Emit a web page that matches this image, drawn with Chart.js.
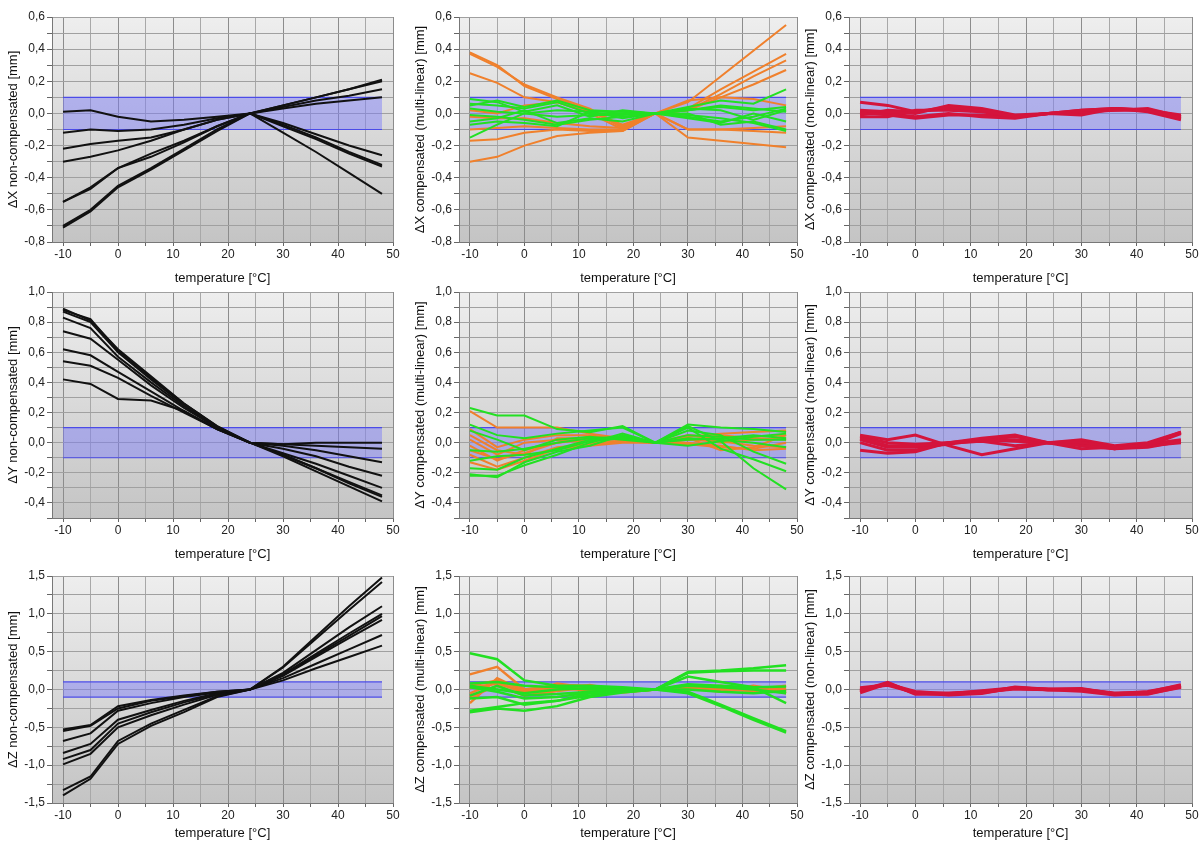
<!DOCTYPE html>
<html>
<head>
<meta charset="utf-8">
<script src="https://cdn.jsdelivr.net/npm/chart.js@4/dist/chart.umd.min.js"></script>
<style>
  html, body { margin: 0; padding: 0; background: #fff; overflow: hidden; }
  body { width: 1202px; height: 847px; position: relative; }
  canvas { position: absolute; }
</style>
</head>
<body>
<script>
// temperatures of the measurement points [°C]
const temps = [-10, -5, 0, 6, 12, 18, 24, 30, 36, 42, 48];

// tolerance band
const bandX = [-10, 48];
const bandY = [-0.1, 0.1];

// x axis ticks
const xTicks = [-10, -5, 0, 5, 10, 15, 20, 25, 30, 35, 40, 45, 50];
const xLabels = [-10, 0, 10, 20, 30, 40, 50];

// y axis ranges / ticks per row
const yRangeX = [-0.8, 0.6];
const yRangeY = [-0.5, 1.0];
const yRangeZ = [-1.5, 1.5];
const yStepX = 0.1, yStepY = 0.1, yStepZ = 0.25;
const yLabelStepX = 0.2, yLabelStepY = 0.2, yLabelStepZ = 0.5;

// ΔX non-compensated
const xNonComp = [
  [0.01, 0.02, -0.02, -0.05, -0.04, -0.02, 0, 0.03, 0.06, 0.08, 0.10],
  [-0.12, -0.10, -0.11, -0.10, -0.07, -0.03, 0, -0.06, -0.13, -0.20, -0.26],
  [-0.22, -0.19, -0.17, -0.15, -0.10, -0.04, 0, 0.04, 0.08, 0.11, 0.15],
  [-0.30, -0.27, -0.23, -0.17, -0.10, -0.04, 0, -0.07, -0.15, -0.24, -0.32],
  [-0.55, -0.47, -0.34, -0.27, -0.18, -0.08, 0, 0.05, 0.10, 0.15, 0.21],
  [-0.70, -0.60, -0.45, -0.34, -0.22, -0.10, 0, -0.08, -0.16, -0.25, -0.33],
  [-0.71, -0.61, -0.46, -0.35, -0.23, -0.11, 0, 0.05, 0.10, 0.15, 0.20],
  [-0.55, -0.46, -0.34, -0.25, -0.17, -0.08, 0, -0.12, -0.24, -0.37, -0.50]
];
// ΔY non-compensated
const yNonComp = [
  [0.89, 0.81, 0.62, 0.44, 0.26, 0.11, 0, -0.09, -0.19, -0.29, -0.39],
  [0.87, 0.80, 0.60, 0.42, 0.25, 0.10, 0, -0.08, -0.17, -0.26, -0.35],
  [0.83, 0.76, 0.57, 0.40, 0.24, 0.10, 0, -0.08, -0.17, -0.27, -0.36],
  [0.74, 0.69, 0.55, 0.38, 0.23, 0.10, 0, -0.07, -0.14, -0.22, -0.30],
  [0.62, 0.58, 0.47, 0.34, 0.21, 0.09, 0, -0.04, -0.09, -0.16, -0.22],
  [0.54, 0.51, 0.43, 0.31, 0.20, 0.09, 0, -0.02, -0.05, -0.09, -0.13],
  [0.42, 0.39, 0.29, 0.28, 0.21, 0.09, 0, -0.01, -0.02, -0.03, -0.04],
  [0.88, 0.82, 0.61, 0.43, 0.26, 0.11, 0, -0.01, 0.00, 0.00, 0.00]
];
// ΔZ non-compensated
const zNonComp = [
  [-0.53, -0.47, -0.22, -0.14, -0.08, -0.03, 0, 0.30, 0.70, 1.10, 1.48],
  [-0.55, -0.48, -0.25, -0.15, -0.09, -0.03, 0, 0.29, 0.67, 1.05, 1.42],
  [-0.68, -0.58, -0.28, -0.18, -0.10, -0.04, 0, 0.22, 0.52, 0.82, 1.10],
  [-0.84, -0.72, -0.40, -0.27, -0.15, -0.05, 0, 0.20, 0.47, 0.74, 1.00],
  [-0.92, -0.80, -0.45, -0.30, -0.17, -0.06, 0, 0.19, 0.45, 0.71, 0.97],
  [-0.99, -0.85, -0.50, -0.34, -0.20, -0.07, 0, 0.18, 0.43, 0.68, 0.92],
  [-1.33, -1.15, -0.68, -0.45, -0.27, -0.09, 0, 0.15, 0.34, 0.53, 0.72],
  [-1.40, -1.18, -0.72, -0.48, -0.30, -0.10, 0, 0.12, 0.28, 0.43, 0.58]
];

// multi-linear compensation, green group
const xMultiGreen = [
  [0.09, 0.07, 0.01, 0.05, -0.02, 0.02, 0, 0.04, 0.08, 0.06, 0.15],
  [0.06, 0.05, 0.03, 0.07, 0.00, 0.00, 0, 0.02, 0.04, 0.02, 0.04],
  [0.03, 0.01, 0.00, -0.02, -0.01, -0.01, 0, -0.02, -0.05, -0.02, 0.03],
  [-0.01, -0.02, -0.04, -0.07, -0.04, -0.02, 0, -0.03, -0.06, 0.00, -0.05],
  [-0.05, -0.03, 0.02, -0.06, -0.03, -0.05, 0, 0.02, 0.05, 0.03, 0.01],
  [-0.15, -0.07, 0.00, 0.02, 0.01, -0.03, 0, 0.00, -0.07, -0.05, -0.10],
  [0.05, 0.08, 0.04, 0.08, 0.02, 0.01, 0, -0.01, -0.03, -0.06, -0.11],
  [-0.07, -0.05, -0.06, -0.08, 0.01, 0.01, 0, 0.03, 0.02, -0.04, 0.02]
];
// multi-linear compensation, orange group
const xMultiOrange = [
  [0.37, 0.29, 0.18, 0.10, 0.03, -0.08, 0, 0.07, 0.23, 0.39, 0.55],
  [0.38, 0.30, 0.17, 0.09, 0.02, -0.09, 0, 0.03, 0.15, 0.26, 0.37],
  [0.25, 0.19, 0.10, 0.07, 0.00, -0.10, 0, 0.02, 0.12, 0.23, 0.33],
  [-0.17, -0.16, -0.12, -0.10, -0.11, -0.11, 0, 0.02, 0.10, 0.18, 0.27],
  [-0.30, -0.27, -0.20, -0.14, -0.12, -0.11, 0, -0.15, -0.17, -0.19, -0.21],
  [-0.10, -0.09, -0.08, -0.09, -0.10, -0.10, 0, -0.10, -0.10, -0.11, -0.12],
  [-0.02, -0.03, -0.03, -0.06, -0.08, -0.09, 0, -0.10, -0.10, -0.09, -0.08],
  [0.02, 0.00, 0.05, 0.07, 0.01, -0.07, 0, 0.08, 0.10, 0.09, 0.05]
];
const yMultiGreen = [
  [0.23, 0.18, 0.18, 0.09, 0.07, 0.11, 0, 0.12, 0.10, 0.09, 0.07],
  [0.12, 0.05, 0.03, 0.06, 0.08, 0.10, 0, 0.11, 0.01, -0.17, -0.31],
  [-0.22, -0.22, -0.15, -0.08, 0.00, 0.06, 0, 0.10, -0.04, -0.11, -0.19],
  [-0.21, -0.23, -0.13, -0.06, -0.02, 0.05, 0, 0.08, 0.05, -0.06, -0.14],
  [-0.17, -0.18, -0.10, -0.04, 0.02, 0.04, 0, 0.05, 0.04, 0.02, 0.02],
  [-0.12, -0.09, -0.08, -0.05, 0.01, 0.03, 0, -0.02, 0.01, 0.04, 0.06],
  [0.08, 0.02, -0.05, 0.02, 0.04, 0.02, 0, 0.03, 0.02, 0.00, -0.03],
  [-0.05, -0.06, -0.04, 0.00, 0.03, 0.04, 0, 0.02, 0.03, 0.05, 0.03]
];
const yMultiOrange = [
  [0.21, 0.10, 0.10, 0.10, 0.06, 0.03, 0, 0.04, 0.06, 0.07, 0.08],
  [0.09, -0.03, 0.02, 0.05, 0.05, 0.02, 0, 0.05, 0.03, 0.04, 0.05],
  [0.05, -0.05, -0.08, 0.03, 0.03, 0.02, 0, 0.03, 0.00, 0.02, 0.03],
  [-0.02, -0.12, -0.05, 0.00, 0.02, 0.02, 0, 0.02, 0.01, -0.02, -0.03],
  [-0.08, -0.16, -0.10, -0.03, -0.01, 0.01, 0, 0.00, -0.02, -0.05, -0.04],
  [-0.13, -0.18, -0.12, -0.04, -0.02, 0.00, 0, -0.01, -0.03, -0.04, 0.00],
  [0.02, -0.08, 0.00, 0.02, 0.00, 0.01, 0, 0.02, 0.05, 0.03, 0.02],
  [-0.05, -0.11, -0.07, 0.00, 0.04, 0.03, 0, 0.03, -0.05, -0.03, 0.05]
];
const zMultiGreen = [
  [0.48, 0.40, 0.12, 0.05, 0.05, 0.03, 0, 0.23, 0.25, 0.28, 0.32],
  [0.08, 0.10, 0.05, 0.03, 0.00, 0.00, 0, 0.22, 0.24, 0.25, 0.25],
  [-0.30, -0.25, -0.28, -0.22, -0.10, -0.04, 0, 0.17, 0.10, 0.03, -0.18],
  [-0.28, -0.23, -0.18, -0.15, -0.08, -0.03, 0, -0.05, -0.22, -0.40, -0.57],
  [-0.12, -0.10, -0.20, -0.15, -0.05, -0.03, 0, -0.03, -0.20, -0.38, -0.55],
  [0.03, -0.03, -0.12, -0.10, -0.04, -0.02, 0, 0.05, 0.03, 0.00, -0.05],
  [-0.08, 0.05, -0.08, -0.06, -0.03, 0.00, 0, 0.07, 0.05, 0.03, 0.04],
  [0.05, 0.00, -0.05, 0.00, 0.02, 0.01, 0, 0.00, -0.03, -0.05, -0.02]
];
const zMultiOrange = [
  [0.20, 0.30, 0.00, 0.05, 0.02, -0.03, 0, 0.05, 0.03, 0.00, 0.02],
  [-0.18, 0.15, -0.02, 0.06, 0.05, -0.02, 0, 0.03, 0.00, -0.02, -0.03],
  [-0.05, 0.10, -0.05, 0.08, 0.02, -0.04, 0, 0.06, 0.02, 0.00, 0.05],
  [0.02, 0.08, -0.03, 0.00, 0.06, -0.02, 0, 0.02, -0.03, 0.03, -0.05],
  [-0.10, 0.05, -0.08, -0.02, 0.03, -0.01, 0, 0.00, 0.05, -0.02, 0.00],
  [0.05, 0.12, 0.00, 0.03, -0.02, 0.00, 0, 0.04, -0.02, 0.05, -0.02]
];

// non-linear compensation
const xNonLin = [
  [0.07, 0.05, 0.01, 0.04, 0.02, -0.02, 0, 0.02, 0.03, 0.02, -0.03],
  [0.02, 0.01, 0.00, 0.05, 0.03, -0.01, 0, 0.01, 0.02, 0.02, -0.02],
  [-0.02, -0.02, 0.02, 0.02, 0.01, -0.02, 0, -0.01, 0.03, 0.02, -0.03],
  [0.00, 0.00, -0.02, 0.00, -0.02, -0.03, 0, 0.01, 0.02, 0.03, -0.02],
  [0.01, -0.01, -0.03, -0.01, -0.01, -0.02, 0, 0.00, 0.03, 0.01, -0.04],
  [-0.01, 0.02, 0.01, 0.03, 0.02, -0.02, 0, 0.02, 0.03, 0.02, -0.01]
];
const yNonLin = [
  [0.05, 0.02, 0.05, -0.02, -0.08, -0.04, 0, -0.02, -0.04, -0.01, 0.07],
  [0.03, -0.02, -0.02, 0.00, 0.03, 0.05, 0, 0.00, -0.03, -0.02, 0.06],
  [0.00, -0.05, -0.05, 0.00, 0.02, 0.04, 0, 0.01, -0.04, -0.03, 0.01],
  [-0.05, -0.07, -0.06, 0.00, 0.01, 0.02, 0, -0.04, -0.03, -0.02, 0.00],
  [0.04, 0.00, -0.01, 0.00, 0.01, -0.02, 0, 0.02, -0.02, 0.00, 0.07],
  [0.02, -0.03, -0.03, -0.01, 0.02, 0.01, 0, -0.01, -0.04, -0.01, 0.02]
];
const zNonLin = [
  [0.00, 0.07, -0.03, -0.06, -0.04, 0.02, 0, 0.00, -0.05, -0.04, 0.06],
  [-0.04, 0.08, -0.05, -0.05, -0.03, 0.01, 0, -0.02, -0.07, -0.05, 0.03],
  [0.02, 0.06, -0.04, -0.07, -0.05, 0.03, 0, 0.01, -0.06, -0.03, 0.05],
  [-0.02, 0.09, -0.06, -0.06, -0.02, 0.02, 0, 0.00, -0.06, -0.06, 0.04]
];

// layout of the 3x3 panels (plot area edges in page pixels)
const colLeft = [52, 459, 849];
const colRight = [393, 797, 1192];
const rowTop = [17, 292, 576];
const rowBottom = [242, 518, 803];
const xAxisHeight = [50, 50, 44];

const FONT = 'Arial, "Liberation Sans", sans-serif';

// gray gradient behind each plot area
const bgPlugin = {
  id: 'bg',
  beforeDraw(chart) {
    const { ctx, chartArea: a } = chart;
    const g = ctx.createLinearGradient(0, a.top, 0, a.bottom);
    g.addColorStop(0, '#eeeeee');
    g.addColorStop(1, '#c4c4c4');
    ctx.save();
    ctx.fillStyle = g;
    ctx.fillRect(a.left, a.top, a.right - a.left, a.bottom - a.top);
    ctx.restore();
  }
};

function fmt(v) {
  return v.toFixed(1).replace('.', ',');
}

function makeTicks(min, max, step) {
  const out = [];
  const n = Math.round((max - min) / step);
  for (let i = 0; i <= n; i++) out.push(+(min + i * step).toFixed(4));
  return out;
}

function lineSets(rows, color, width) {
  return rows.map(vals => ({
    data: temps.map((t, i) => ({ x: t, y: vals[i] })),
    borderColor: color,
    borderWidth: width,
    pointRadius: 0,
    fill: false,
    tension: 0,
    order: 1
  }));
}

function bandSets() {
  return [
    {
      data: bandX.map(x => ({ x: x, y: bandY[1] })),
      borderColor: '#4b4be8', borderWidth: 1.2, pointRadius: 0, fill: false, order: 5
    },
    {
      data: bandX.map(x => ({ x: x, y: bandY[0] })),
      borderColor: '#4b4be8', borderWidth: 1.2, pointRadius: 0,
      fill: '-1', backgroundColor: 'rgba(120,120,250,0.45)', order: 5
    }
  ];
}

function makePanel(row, col, yTitle, yRange, yStep, yLabelStep, datasets) {
  const padTop = 12, padRight = col === 2 ? 10 : 12, yW = 52;
  const plotW = colRight[col] - colLeft[col];
  const plotH = rowBottom[row] - rowTop[row];
  const cv = document.createElement('canvas');
  const w = plotW + yW + padRight;
  const h = plotH + padTop + xAxisHeight[row];
  cv.width = w; cv.height = h;
  cv.style.left = (colLeft[col] - yW) + 'px';
  cv.style.top = (rowTop[row] - padTop) + 'px';
  cv.style.width = w + 'px'; cv.style.height = h + 'px';
  document.body.appendChild(cv);

  const yTickVals = makeTicks(yRange[0], yRange[1], yStep);

  new Chart(cv.getContext('2d'), {
    type: 'line',
    data: { datasets: bandSets().concat(datasets) },
    options: {
      responsive: false,
      animation: false,
      devicePixelRatio: 1,
      layout: { padding: { top: padTop, right: padRight, left: 0, bottom: 0 } },
      plugins: { legend: { display: false }, tooltip: { enabled: false } },
      scales: {
        x: {
          type: 'linear', min: -12, max: 50,
          afterBuildTicks: s => { s.ticks = xTicks.map(v => ({ value: v })); },
          afterFit: s => { s.height = xAxisHeight[row]; },
          grid: {
            color: ctx => (ctx.tick && ctx.tick.value % 10 === 0) ? '#8c8c8c' : '#a8a8a8',
            tickColor: '#666', tickLength: 4, drawTicks: true
          },
          border: { color: '#777' },
          ticks: {
            autoSkip: false, maxRotation: 0, padding: 1,
            color: '#222', font: { family: FONT, size: 12 },
            callback: v => xLabels.includes(v) ? String(v) : ''
          },
          title: {
            display: true, text: 'temperature [°C]', color: '#111',
            font: { family: FONT, size: 13 }, padding: { top: 0, bottom: 6 }
          }
        },
        y: {
          type: 'linear', min: yRange[0], max: yRange[1],
          afterBuildTicks: s => { s.ticks = yTickVals.map(v => ({ value: v })); },
          afterFit: s => { s.width = yW; },
          grid: {
            color: '#a0a0a0', tickColor: '#666', tickLength: 5, drawTicks: true
          },
          border: { color: '#777' },
          ticks: {
            autoSkip: false, padding: 2, color: '#222',
            font: { family: FONT, size: 12 },
            callback: v => {
              const k = Math.round(v / yLabelStep * 1000) / 1000;
              return Number.isInteger(k) ? fmt(v) : '';
            }
          },
          title: {
            display: true, text: yTitle, color: '#111',
            font: { family: FONT, size: 13 }, padding: { top: 6, bottom: 0 }
          }
        }
      }
    },
    plugins: [bgPlugin]
  });
}

const BLACK = '#111111', GREEN = '#22e022', ORANGE = '#f0802c', RED = '#d4143c';

// row 1: ΔX
makePanel(0, 0, 'ΔX non-compensated [mm]', yRangeX, yStepX, yLabelStepX,
  lineSets(xNonComp, BLACK, 2));
makePanel(0, 1, 'ΔX compensated (multi-linear) [mm]', yRangeX, yStepX, yLabelStepX,
  lineSets(xMultiGreen, GREEN, 2).concat(lineSets(xMultiOrange, ORANGE, 2)));
makePanel(0, 2, 'ΔX compensated (non-linear) [mm]', yRangeX, yStepX, yLabelStepX,
  lineSets(xNonLin, RED, 3));

// row 2: ΔY
makePanel(1, 0, 'ΔY non-compensated [mm]', yRangeY, yStepY, yLabelStepY,
  lineSets(yNonComp, BLACK, 2));
makePanel(1, 1, 'ΔY compensated (multi-linear) [mm]', yRangeY, yStepY, yLabelStepY,
  lineSets(yMultiGreen, GREEN, 2).concat(lineSets(yMultiOrange, ORANGE, 2)));
makePanel(1, 2, 'ΔY compensated (non-linear) [mm]', yRangeY, yStepY, yLabelStepY,
  lineSets(yNonLin, RED, 3));

// row 3: ΔZ
makePanel(2, 0, 'ΔZ non-compensated [mm]', yRangeZ, yStepZ, yLabelStepZ,
  lineSets(zNonComp, BLACK, 2));
makePanel(2, 1, 'ΔZ compensated (multi-linear) [mm]', yRangeZ, yStepZ, yLabelStepZ,
  lineSets(zMultiGreen, GREEN, 2.5).concat(lineSets(zMultiOrange, ORANGE, 2.5)));
makePanel(2, 2, 'ΔZ compensated (non-linear) [mm]', yRangeZ, yStepZ, yLabelStepZ,
  lineSets(zNonLin, RED, 3.5));
</script>
</body>
</html>
